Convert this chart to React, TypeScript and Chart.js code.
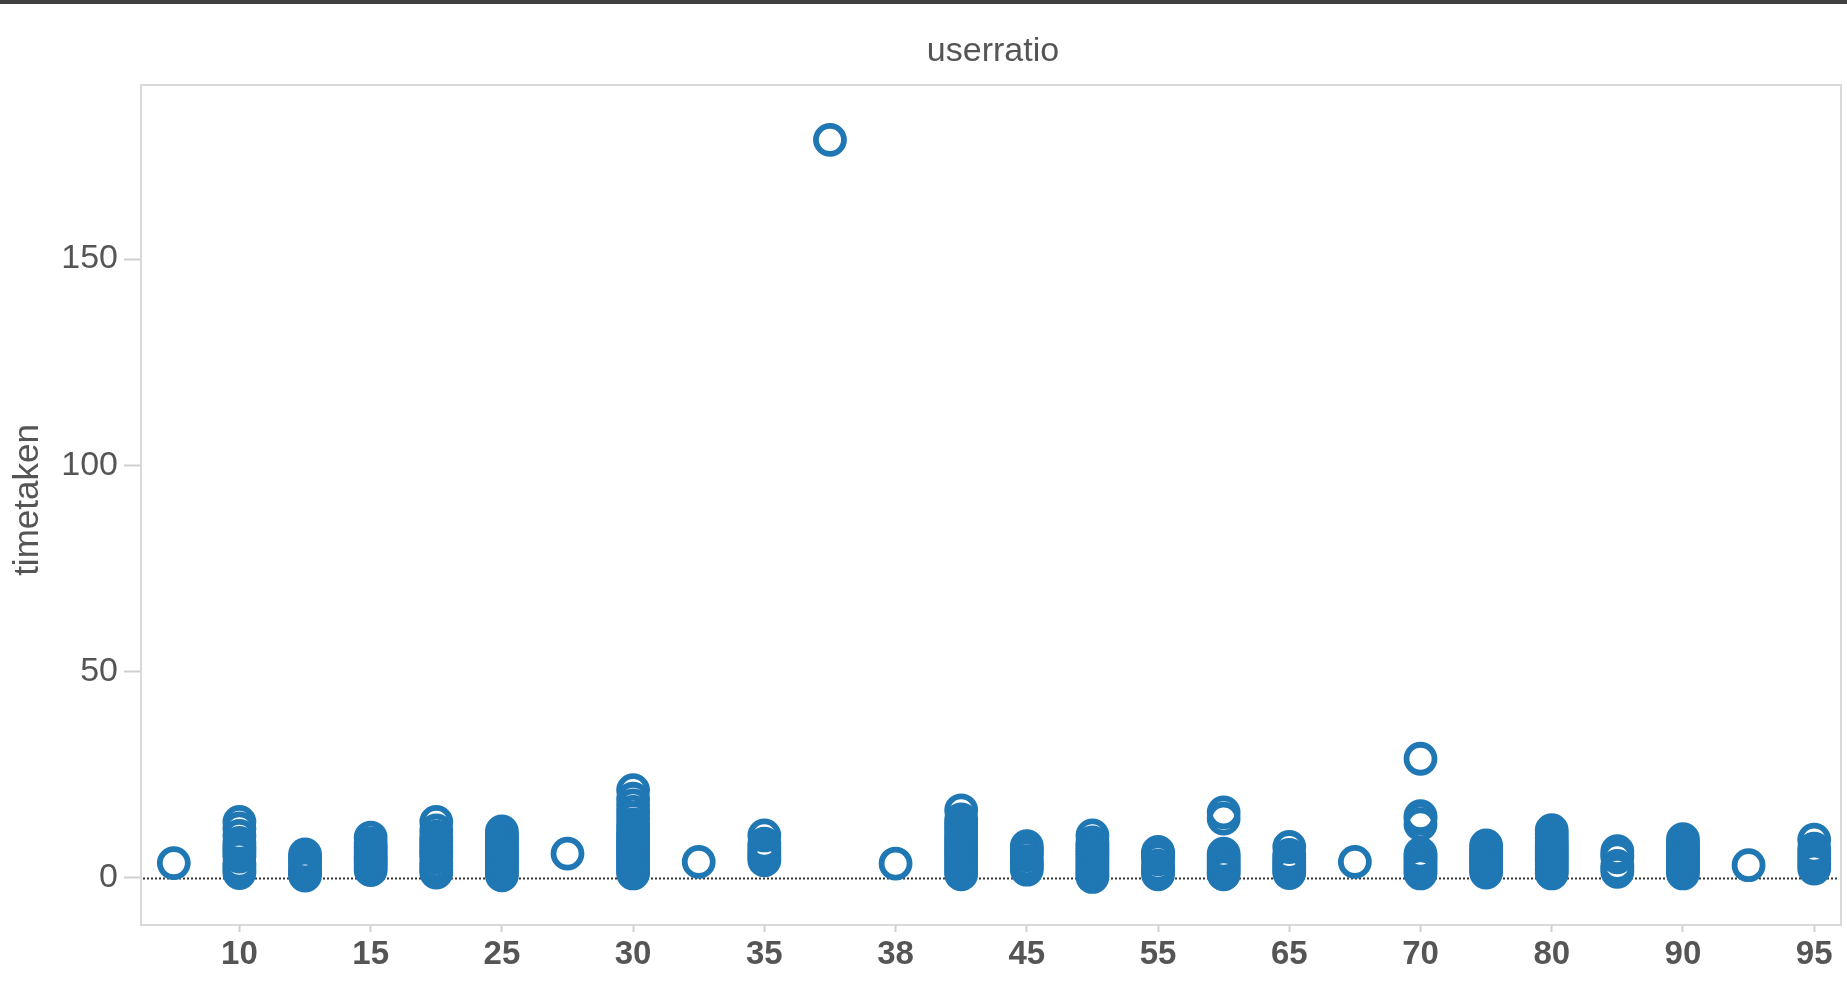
import React, { useEffect, useRef } from "react";
import { Chart, registerables } from "chart.js";

Chart.register(...registerables);

const categories = ["5", "10", "12", "15", "20", "25", "28", "30", "32", "35", "37", "38", "40", "45", "50", "55", "60", "65", "68", "70", "75", "80", "85", "90", "92", "95"];

const timetaken: number[][] = [
  [3.6],
  [1.2, 2.0, 2.8, 3.5, 5.2, 6.0, 6.8, 7.5, 8.5, 10.2, 12.0, 13.6],
  [0.6, 1.2, 1.8, 2.4, 3.6, 4.2, 5.0, 5.7],
  [1.9, 2.6, 3.3, 4.0, 4.6, 5.2, 6.0, 6.8, 7.6, 8.4, 9.8],
  [1.3, 2.0, 2.8, 3.6, 5.0, 5.8, 6.6, 7.4, 8.2, 9.0, 10.0, 11.5, 13.6],
  [0.65, 1.3, 2.0, 2.7, 3.4, 4.1, 4.8, 5.5, 6.2, 6.9, 7.6, 8.3, 9.0, 9.7, 10.5, 11.3],
  [5.9],
  [1.1, 1.8, 2.5, 3.2, 3.9, 4.6, 5.3, 6.0, 6.7, 7.4, 8.1, 8.8, 9.5, 10.2, 11.0, 12.0, 13.0, 14.5, 16.0, 17.6, 19.2, 21.3],
  [3.9],
  [4.3, 5.0, 5.6, 6.5, 7.4, 8.3, 10.3],
  [178.9],
  [3.5],
  [0.9, 1.6, 2.3, 3.0, 3.7, 4.4, 5.1, 5.8, 6.5, 7.2, 7.9, 8.6, 9.3, 10.0, 10.8, 11.6, 12.4, 13.2, 14.2, 16.4],
  [2.0, 2.7, 3.4, 4.1, 5.5, 6.2, 7.0, 7.7],
  [0.25, 0.9, 1.6, 2.3, 3.0, 3.7, 4.4, 5.1, 5.8, 6.5, 7.2, 7.9, 8.6, 10.3],
  [0.9, 1.6, 2.3, 3.0, 4.5, 5.2, 5.8, 6.3],
  [0.9, 1.6, 2.3, 3.0, 3.7, 4.4, 5.1, 5.9, 14.4, 15.9],
  [1.2, 1.9, 2.6, 3.3, 4.0, 4.8, 5.6, 7.5],
  [3.9],
  [1.1, 1.8, 2.5, 3.2, 3.9, 4.6, 5.3, 5.9, 13.0, 14.4, 15.0, 28.9],
  [1.3, 2.0, 2.7, 3.4, 4.1, 4.8, 5.5, 6.2, 7.0, 7.9],
  [1.1, 1.8, 2.5, 3.2, 3.9, 4.6, 5.3, 6.0, 6.7, 7.4, 8.1, 8.8, 9.6, 10.6, 11.6],
  [1.5, 2.2, 2.9, 5.0, 5.7, 6.5],
  [1.1, 1.8, 2.5, 3.2, 3.9, 4.6, 5.3, 6.0, 6.7, 7.5, 8.4, 9.4],
  [3.1],
  [2.3, 3.5, 4.7, 5.9, 7.1, 9.3],
];

const yTicks = [0, 50, 100, 150];

const chartTitle = "userratio";
const yTitle = "timetaken";

const FONT = "'Liberation Sans', Arial, sans-serif";
const TEXT = "#555555";
const BLUE = "#1f77b4";
const FRAME_INSET_RIGHT = 6;

const framePlugin = {
  id: "frameAndZero",
  beforeDatasetsDraw(chart: any) {
    const { ctx, chartArea, scales } = chart;
    const right = chartArea.right - FRAME_INSET_RIGHT;
    ctx.save();
    ctx.strokeStyle = "#d9d9d9";
    ctx.lineWidth = 2;
    ctx.strokeRect(chartArea.left, chartArea.top, right - chartArea.left, chartArea.bottom - chartArea.top);
    const y0 = Math.round(scales.y.getPixelForValue(0)) + 0.5;
    ctx.strokeStyle = "#333333";
    ctx.lineWidth = 2;
    ctx.setLineDash([2, 2]);
    ctx.beginPath();
    ctx.moveTo(chartArea.left + 2, y0);
    ctx.lineTo(right - 2, y0);
    ctx.stroke();
    ctx.restore();
  },
  afterDraw(chart: any) {
    const { ctx, chartArea } = chart;
    const right = chartArea.right - FRAME_INSET_RIGHT;
    ctx.save();
    ctx.fillStyle = TEXT;
    ctx.font = `normal 34px ${FONT}`;
    ctx.textAlign = "center";
    ctx.textBaseline = "middle";
    ctx.fillText(chartTitle, (chartArea.left + right) / 2 + 2, 52);
    ctx.translate(28, 500);
    ctx.rotate(-Math.PI / 2);
    ctx.font = `normal 35px ${FONT}`;
    ctx.fillText(yTitle, 0, 0);
    ctx.restore();
  },
};

export default function App() {
  const ref = useRef<HTMLCanvasElement | null>(null);

  useEffect(() => {
    if (!ref.current) return;
    const points: { x: string; y: number }[] = [];
    categories.forEach((c, i) => {
      timetaken[i].forEach((v) => points.push({ x: c, y: v }));
    });
    const chart = new Chart(ref.current, {
      type: "scatter",
      data: {
        labels: categories,
        datasets: [
          {
            data: points as any,
            borderColor: BLUE,
            backgroundColor: "rgba(0,0,0,0)",
            pointRadius: 14,
            pointBorderWidth: 5.8,
            pointHoverRadius: 14,
          },
        ],
      },
      options: {
        animation: false,
        responsive: false,
        layout: { autoPadding: false, padding: { left: 0, right: 0, top: 85, bottom: 0 } },
        plugins: {
          legend: { display: false },
          tooltip: { enabled: false },
          title: { display: false },
        },
        scales: {
          x: {
            type: "category",
            labels: categories,
            offset: true,
            border: { display: false },
            grid: {
              offset: false,
              drawOnChartArea: false,
              drawTicks: true,
              tickLength: 7,
              tickWidth: 2,
              tickColor: (ctx: any) => (ctx.index % 2 === 1 ? "#d0d0d0" : "rgba(0,0,0,0)"),
            },
            ticks: {
              autoSkip: false,
              maxRotation: 0,
              minRotation: 0,
              padding: 3,
              color: TEXT,
              font: { family: FONT, size: 33, weight: "bold" },
              callback: (_v: any, i: number) => (i % 2 === 1 ? categories[i] : ""),
            },
            afterFit: (scale: any) => {
              scale.height = 67;
              scale.paddingLeft = 0;
              scale.paddingRight = 0;
            },
          },
          y: {
            type: "linear",
            min: -11.4,
            max: 192.2,
            border: { display: false },
            grid: {
              drawOnChartArea: false,
              drawTicks: true,
              tickLength: 17,
              tickWidth: 2,
              tickColor: "#d0d0d0",
            },
            ticks: {
              padding: 6,
              color: TEXT,
              font: { family: FONT, size: 34, weight: "normal" },
            },
            afterBuildTicks: (scale: any) => {
              scale.ticks = yTicks.map((v) => ({ value: v }));
            },
            afterFit: (scale: any) => {
              scale.width = 141;
              scale.paddingTop = 0;
              scale.paddingBottom = 0;
            },
          },
        },
      },
      plugins: [framePlugin],
    });
    return () => chart.destroy();
  }, []);

  return (
    <div style={{ position: "absolute", left: 0, top: 0, width: 1847, height: 992, background: "#ffffff", overflow: "hidden" }}>
      <canvas ref={ref} width={1847} height={992} style={{ display: "block" }} />
      <div style={{ position: "absolute", left: 0, top: 0, width: 1847, height: 4, background: "#404040" }} />
    </div>
  );
}
